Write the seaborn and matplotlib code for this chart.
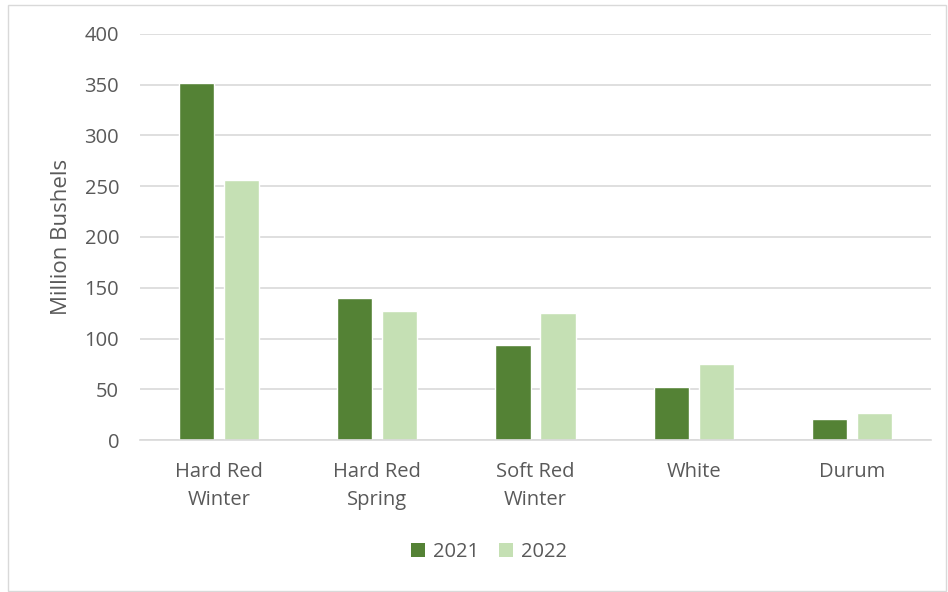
import matplotlib
matplotlib.use("Agg")
import matplotlib.pyplot as plt
import seaborn as sns
import pandas as pd
from matplotlib.patches import Rectangle, Patch

categories = ["Hard Red\nWinter", "Hard Red\nSpring", "Soft Red\nWinter", "White", "Durum"]
years = ["2021", "2022"]
values_2021 = [352, 140, 94, 52, 21]
values_2022 = [256, 127, 125, 75, 27]
yticks = [0, 50, 100, 150, 200, 250, 300, 350, 400]

df = pd.DataFrame({
    "Class": categories * 2,
    "Year": [years[0]] * len(categories) + [years[1]] * len(categories),
    "Value": values_2021 + values_2022,
})

sns.set_theme(style="white")
plt.rcParams["font.family"] = ["Open Sans", "DejaVu Sans"]
text_color = "#595959"
palette = {"2021": "#548235", "2022": "#C5E0B4"}

fig = plt.figure(figsize=(9.48, 5.92), dpi=100)
fig.patches.append(Rectangle((8 / 948, 1 - 591 / 592), 938 / 948, 586 / 592,
                             transform=fig.transFigure, fill=False,
                             edgecolor="#D9D9D9", linewidth=1.0))
ax = fig.add_axes([140 / 948, 1 - 440 / 592, 791 / 948, 406 / 592])

sns.barplot(data=df, x="Class", y="Value", hue="Year", palette=palette,
            width=0.569, gap=0.222, ax=ax, legend=False, saturation=1)

ax.set_ylim(0, 400)
ax.set_xlim(-0.5, 4.5)
ax.set_yticks(yticks)
ax.yaxis.grid(True, color="#D9D9D9", linewidth=1.2)
ax.set_axisbelow(True)
for s in ["top", "right", "left"]:
    ax.spines[s].set_visible(False)
ax.spines["bottom"].set_color("#D9D9D9")
ax.spines["bottom"].set_linewidth(1.2)
ax.tick_params(axis="both", length=0, labelsize=14.5, colors=text_color)
ax.tick_params(axis="y", pad=15)
ax.tick_params(axis="x", pad=16)
for lbl in ax.get_xticklabels():
    lbl.set_linespacing(1.5)
ax.set_xlabel("")
ax.set_ylabel("Million Bushels", fontsize=16, color=text_color, labelpad=9)

handles = [Patch(facecolor=palette[y], edgecolor="none") for y in years]
fig.legend(handles, years, loc="center", bbox_to_anchor=(489 / 948, 1 - 552 / 592),
           ncol=2, frameon=False, fontsize=14.5, labelcolor=text_color,
           handlelength=0.7, handleheight=0.7, handletextpad=0.4, columnspacing=1.0)

fig.savefig("out.png", dpi=100)
